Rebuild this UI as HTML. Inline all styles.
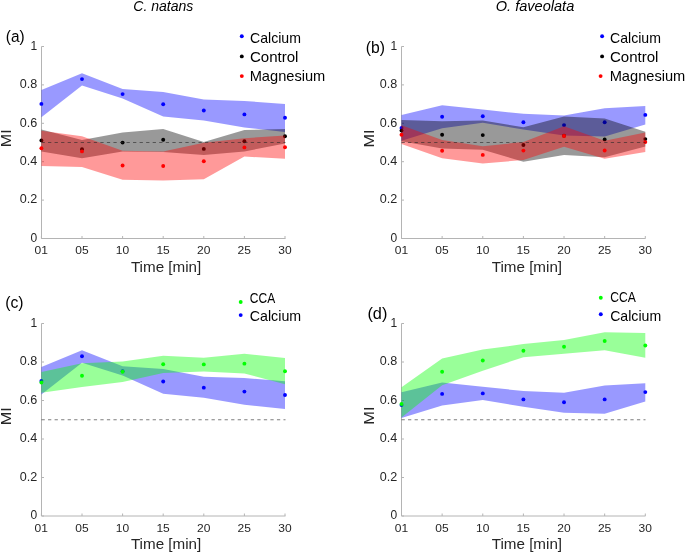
<!DOCTYPE html>
<html><head><meta charset="utf-8"><style>
html,body{margin:0;padding:0;background:#fff;}
body{width:685px;height:552px;overflow:hidden;}
svg{display:block;will-change:transform;font-family:"Liberation Sans", sans-serif;}
</style></head><body>
<svg width="685" height="552" viewBox="0 0 685 552">
<rect width="685" height="552" fill="#fff"/>
<path d="M41.5,46.5 V238.5 H285.5" fill="none" stroke="#b4b4b4" stroke-width="1"/>
<path d="M41.5,238.50 h2.5 M41.5,200.10 h2.5 M41.5,161.70 h2.5 M41.5,123.30 h2.5 M41.5,84.90 h2.5 M41.5,46.50 h2.5 M41.40,238.5 v-2.5 M82.00,238.5 v-2.5 M122.60,238.5 v-2.5 M163.20,238.5 v-2.5 M203.80,238.5 v-2.5 M244.40,238.5 v-2.5 M285.00,238.5 v-2.5" fill="none" stroke="#b4b4b4" stroke-width="1"/>
<text font-size="12" text-anchor="end" fill="#262626" transform="translate(37.20,241.80) scale(1.0,1)">0</text>
<text font-size="12" text-anchor="end" fill="#262626" transform="translate(37.20,203.40) scale(1.05,1)">0.2</text>
<text font-size="12" text-anchor="end" fill="#262626" transform="translate(37.20,165.00) scale(1.05,1)">0.4</text>
<text font-size="12" text-anchor="end" fill="#262626" transform="translate(37.20,126.60) scale(1.05,1)">0.6</text>
<text font-size="12" text-anchor="end" fill="#262626" transform="translate(37.20,88.20) scale(1.05,1)">0.8</text>
<text font-size="12" text-anchor="end" fill="#262626" transform="translate(37.20,49.80) scale(1.0,1)">1</text>
<text font-size="11.8" text-anchor="middle" fill="#262626" transform="translate(41.30,254.10) scale(1.02,1)">01</text>
<text font-size="11.8" text-anchor="middle" fill="#262626" transform="translate(81.90,254.10) scale(1.02,1)">05</text>
<text font-size="11.8" text-anchor="middle" fill="#262626" transform="translate(122.50,254.10) scale(1.02,1)">10</text>
<text font-size="11.8" text-anchor="middle" fill="#262626" transform="translate(163.10,254.10) scale(1.02,1)">15</text>
<text font-size="11.8" text-anchor="middle" fill="#262626" transform="translate(203.70,254.10) scale(1.02,1)">20</text>
<text font-size="11.8" text-anchor="middle" fill="#262626" transform="translate(244.30,254.10) scale(1.02,1)">25</text>
<text font-size="11.8" text-anchor="middle" fill="#262626" transform="translate(284.90,254.10) scale(1.02,1)">30</text>
<polygon points="41.40,90.00 82.00,73.30 122.60,89.10 163.20,91.90 203.80,99.50 244.40,100.90 285.00,104.00 285.00,131.90 244.40,127.50 203.80,120.50 163.20,116.50 122.60,98.40 82.00,85.60 41.40,117.30" fill="#0000ff" fill-opacity="0.4"/>
<circle cx="41.40" cy="103.90" r="1.95" fill="#0000ff"/>
<circle cx="82.00" cy="79.10" r="1.95" fill="#0000ff"/>
<circle cx="122.60" cy="94.10" r="1.95" fill="#0000ff"/>
<circle cx="163.20" cy="104.30" r="1.95" fill="#0000ff"/>
<circle cx="203.80" cy="110.50" r="1.95" fill="#0000ff"/>
<circle cx="244.40" cy="114.40" r="1.95" fill="#0000ff"/>
<circle cx="285.00" cy="117.80" r="1.95" fill="#0000ff"/>
<polygon points="41.40,129.40 82.00,140.10 122.60,132.60 163.20,129.00 203.80,142.00 244.40,130.00 285.00,128.90 285.00,143.50 244.40,151.50 203.80,155.10 163.20,152.00 122.60,151.50 82.00,158.30 41.40,151.60" fill="#000000" fill-opacity="0.4"/>
<circle cx="41.40" cy="140.40" r="1.95" fill="#000000"/>
<circle cx="82.00" cy="149.20" r="1.95" fill="#000000"/>
<circle cx="122.60" cy="142.60" r="1.95" fill="#000000"/>
<circle cx="163.20" cy="139.70" r="1.95" fill="#000000"/>
<circle cx="203.80" cy="148.90" r="1.95" fill="#000000"/>
<circle cx="244.40" cy="141.20" r="1.95" fill="#000000"/>
<circle cx="285.00" cy="136.30" r="1.95" fill="#000000"/>
<polygon points="41.40,130.80 82.00,136.20 122.60,150.80 163.20,151.40 203.80,142.70 244.40,138.20 285.00,135.60 285.00,158.80 244.40,156.50 203.80,179.20 163.20,180.50 122.60,179.70 82.00,167.00 41.40,166.00" fill="#ff0000" fill-opacity="0.4"/>
<circle cx="41.40" cy="148.20" r="1.95" fill="#ff0000"/>
<circle cx="82.00" cy="151.40" r="1.95" fill="#ff0000"/>
<circle cx="122.60" cy="165.50" r="1.95" fill="#ff0000"/>
<circle cx="163.20" cy="166.00" r="1.95" fill="#ff0000"/>
<circle cx="203.80" cy="161.30" r="1.95" fill="#ff0000"/>
<circle cx="244.40" cy="147.40" r="1.95" fill="#ff0000"/>
<circle cx="285.00" cy="147.30" r="1.95" fill="#ff0000"/>
<line x1="41.5" y1="142.50" x2="285.5" y2="142.50" stroke="#262626" stroke-width="1" stroke-dasharray="3.27,3.27" stroke-opacity="0.6"/>
<path d="M401.5,46.5 V238.5 H645.5" fill="none" stroke="#b4b4b4" stroke-width="1"/>
<path d="M401.5,238.50 h2.5 M401.5,200.10 h2.5 M401.5,161.70 h2.5 M401.5,123.30 h2.5 M401.5,84.90 h2.5 M401.5,46.50 h2.5 M401.50,238.5 v-2.5 M442.13,238.5 v-2.5 M482.77,238.5 v-2.5 M523.40,238.5 v-2.5 M564.03,238.5 v-2.5 M604.67,238.5 v-2.5 M645.30,238.5 v-2.5" fill="none" stroke="#b4b4b4" stroke-width="1"/>
<text font-size="12" text-anchor="end" fill="#262626" transform="translate(397.20,241.80) scale(1.0,1)">0</text>
<text font-size="12" text-anchor="end" fill="#262626" transform="translate(397.20,203.40) scale(1.05,1)">0.2</text>
<text font-size="12" text-anchor="end" fill="#262626" transform="translate(397.20,165.00) scale(1.05,1)">0.4</text>
<text font-size="12" text-anchor="end" fill="#262626" transform="translate(397.20,126.60) scale(1.05,1)">0.6</text>
<text font-size="12" text-anchor="end" fill="#262626" transform="translate(397.20,88.20) scale(1.05,1)">0.8</text>
<text font-size="12" text-anchor="end" fill="#262626" transform="translate(397.20,49.80) scale(1.0,1)">1</text>
<text font-size="11.8" text-anchor="middle" fill="#262626" transform="translate(401.40,254.10) scale(1.02,1)">01</text>
<text font-size="11.8" text-anchor="middle" fill="#262626" transform="translate(442.03,254.10) scale(1.02,1)">05</text>
<text font-size="11.8" text-anchor="middle" fill="#262626" transform="translate(482.67,254.10) scale(1.02,1)">10</text>
<text font-size="11.8" text-anchor="middle" fill="#262626" transform="translate(523.30,254.10) scale(1.02,1)">15</text>
<text font-size="11.8" text-anchor="middle" fill="#262626" transform="translate(563.93,254.10) scale(1.02,1)">20</text>
<text font-size="11.8" text-anchor="middle" fill="#262626" transform="translate(604.57,254.10) scale(1.02,1)">25</text>
<text font-size="11.8" text-anchor="middle" fill="#262626" transform="translate(645.20,254.10) scale(1.02,1)">30</text>
<polygon points="401.50,115.10 442.13,105.30 482.77,109.60 523.40,113.80 564.03,115.50 604.67,108.30 645.30,106.00 645.30,124.40 604.67,136.40 564.03,135.50 523.40,129.50 482.77,122.70 442.13,128.20 401.50,140.70" fill="#0000ff" fill-opacity="0.4"/>
<circle cx="401.50" cy="127.90" r="1.95" fill="#0000ff"/>
<circle cx="442.13" cy="116.70" r="1.95" fill="#0000ff"/>
<circle cx="482.77" cy="116.20" r="1.95" fill="#0000ff"/>
<circle cx="523.40" cy="122.20" r="1.95" fill="#0000ff"/>
<circle cx="564.03" cy="125.10" r="1.95" fill="#0000ff"/>
<circle cx="604.67" cy="122.20" r="1.95" fill="#0000ff"/>
<circle cx="645.30" cy="114.90" r="1.95" fill="#0000ff"/>
<polygon points="401.50,120.00 442.13,121.20 482.77,120.50 523.40,127.20 564.03,116.40 604.67,118.40 645.30,131.80 645.30,146.40 604.67,157.20 564.03,155.00 523.40,161.80 482.77,149.70 442.13,148.40 401.50,141.20" fill="#000000" fill-opacity="0.4"/>
<circle cx="401.50" cy="130.60" r="1.95" fill="#000000"/>
<circle cx="442.13" cy="134.80" r="1.95" fill="#000000"/>
<circle cx="482.77" cy="135.10" r="1.95" fill="#000000"/>
<circle cx="523.40" cy="145.00" r="1.95" fill="#000000"/>
<circle cx="564.03" cy="135.70" r="1.95" fill="#000000"/>
<circle cx="604.67" cy="139.40" r="1.95" fill="#000000"/>
<circle cx="645.30" cy="139.10" r="1.95" fill="#000000"/>
<polygon points="401.50,125.30 442.13,140.00 482.77,146.20 523.40,142.00 564.03,126.20 604.67,140.80 645.30,132.40 645.30,152.00 604.67,158.80 564.03,146.80 523.40,160.00 482.77,163.60 442.13,158.20 401.50,144.10" fill="#ff0000" fill-opacity="0.4"/>
<circle cx="401.50" cy="134.70" r="1.95" fill="#ff0000"/>
<circle cx="442.13" cy="150.80" r="1.95" fill="#ff0000"/>
<circle cx="482.77" cy="154.90" r="1.95" fill="#ff0000"/>
<circle cx="523.40" cy="150.60" r="1.95" fill="#ff0000"/>
<circle cx="564.03" cy="136.00" r="1.95" fill="#ff0000"/>
<circle cx="604.67" cy="150.50" r="1.95" fill="#ff0000"/>
<circle cx="645.30" cy="142.10" r="1.95" fill="#ff0000"/>
<line x1="401.5" y1="142.50" x2="645.5" y2="142.50" stroke="#262626" stroke-width="1" stroke-dasharray="3.27,3.27" stroke-opacity="0.6"/>
<path d="M41.5,323.5 V516.0 H285.5" fill="none" stroke="#b4b4b4" stroke-width="1"/>
<path d="M41.5,516.00 h2.5 M41.5,477.50 h2.5 M41.5,439.00 h2.5 M41.5,400.50 h2.5 M41.5,362.00 h2.5 M41.5,323.50 h2.5 M41.40,516.0 v-2.5 M82.00,516.0 v-2.5 M122.60,516.0 v-2.5 M163.20,516.0 v-2.5 M203.80,516.0 v-2.5 M244.40,516.0 v-2.5 M285.00,516.0 v-2.5" fill="none" stroke="#b4b4b4" stroke-width="1"/>
<text font-size="12" text-anchor="end" fill="#262626" transform="translate(37.20,519.30) scale(1.0,1)">0</text>
<text font-size="12" text-anchor="end" fill="#262626" transform="translate(37.20,480.80) scale(1.05,1)">0.2</text>
<text font-size="12" text-anchor="end" fill="#262626" transform="translate(37.20,442.30) scale(1.05,1)">0.4</text>
<text font-size="12" text-anchor="end" fill="#262626" transform="translate(37.20,403.80) scale(1.05,1)">0.6</text>
<text font-size="12" text-anchor="end" fill="#262626" transform="translate(37.20,365.30) scale(1.05,1)">0.8</text>
<text font-size="12" text-anchor="end" fill="#262626" transform="translate(37.20,326.80) scale(1.0,1)">1</text>
<text font-size="11.8" text-anchor="middle" fill="#262626" transform="translate(41.30,531.60) scale(1.02,1)">01</text>
<text font-size="11.8" text-anchor="middle" fill="#262626" transform="translate(81.90,531.60) scale(1.02,1)">05</text>
<text font-size="11.8" text-anchor="middle" fill="#262626" transform="translate(122.50,531.60) scale(1.02,1)">10</text>
<text font-size="11.8" text-anchor="middle" fill="#262626" transform="translate(163.10,531.60) scale(1.02,1)">15</text>
<text font-size="11.8" text-anchor="middle" fill="#262626" transform="translate(203.70,531.60) scale(1.02,1)">20</text>
<text font-size="11.8" text-anchor="middle" fill="#262626" transform="translate(244.30,531.60) scale(1.02,1)">25</text>
<text font-size="11.8" text-anchor="middle" fill="#262626" transform="translate(284.90,531.60) scale(1.02,1)">30</text>
<polygon points="41.40,367.11 82.00,350.37 122.60,366.21 163.20,369.02 203.80,376.64 244.40,378.04 285.00,381.15 285.00,409.12 244.40,404.71 203.80,397.69 163.20,393.68 122.60,375.54 82.00,362.70 41.40,394.48" fill="#0000ff" fill-opacity="0.4"/>
<circle cx="41.40" cy="381.05" r="1.95" fill="#0000ff"/>
<circle cx="82.00" cy="356.18" r="1.95" fill="#0000ff"/>
<circle cx="122.60" cy="371.22" r="1.95" fill="#0000ff"/>
<circle cx="163.20" cy="381.45" r="1.95" fill="#0000ff"/>
<circle cx="203.80" cy="387.67" r="1.95" fill="#0000ff"/>
<circle cx="244.40" cy="391.58" r="1.95" fill="#0000ff"/>
<circle cx="285.00" cy="394.99" r="1.95" fill="#0000ff"/>
<polygon points="41.40,372.00 82.00,363.30 122.60,361.40 163.20,355.80 203.80,357.70 244.40,353.80 285.00,358.10 285.00,384.30 244.40,373.50 203.80,371.50 163.20,373.10 122.60,382.10 82.00,387.00 41.40,392.75" fill="#00ff00" fill-opacity="0.4"/>
<circle cx="41.40" cy="382.50" r="1.95" fill="#00ff00"/>
<circle cx="82.00" cy="375.70" r="1.95" fill="#00ff00"/>
<circle cx="122.60" cy="371.70" r="1.95" fill="#00ff00"/>
<circle cx="163.20" cy="364.20" r="1.95" fill="#00ff00"/>
<circle cx="203.80" cy="364.40" r="1.95" fill="#00ff00"/>
<circle cx="244.40" cy="363.65" r="1.95" fill="#00ff00"/>
<circle cx="285.00" cy="371.30" r="1.95" fill="#00ff00"/>
<line x1="41.5" y1="419.75" x2="285.5" y2="419.75" stroke="#262626" stroke-width="1" stroke-dasharray="3.27,3.27" stroke-opacity="0.6"/>
<path d="M401.5,323.5 V516.0 H645.5" fill="none" stroke="#b4b4b4" stroke-width="1"/>
<path d="M401.5,516.00 h2.5 M401.5,477.50 h2.5 M401.5,439.00 h2.5 M401.5,400.50 h2.5 M401.5,362.00 h2.5 M401.5,323.50 h2.5 M401.50,516.0 v-2.5 M442.13,516.0 v-2.5 M482.77,516.0 v-2.5 M523.40,516.0 v-2.5 M564.03,516.0 v-2.5 M604.67,516.0 v-2.5 M645.30,516.0 v-2.5" fill="none" stroke="#b4b4b4" stroke-width="1"/>
<text font-size="12" text-anchor="end" fill="#262626" transform="translate(397.20,519.30) scale(1.0,1)">0</text>
<text font-size="12" text-anchor="end" fill="#262626" transform="translate(397.20,480.80) scale(1.05,1)">0.2</text>
<text font-size="12" text-anchor="end" fill="#262626" transform="translate(397.20,442.30) scale(1.05,1)">0.4</text>
<text font-size="12" text-anchor="end" fill="#262626" transform="translate(397.20,403.80) scale(1.05,1)">0.6</text>
<text font-size="12" text-anchor="end" fill="#262626" transform="translate(397.20,365.30) scale(1.05,1)">0.8</text>
<text font-size="12" text-anchor="end" fill="#262626" transform="translate(397.20,326.80) scale(1.0,1)">1</text>
<text font-size="11.8" text-anchor="middle" fill="#262626" transform="translate(401.40,531.60) scale(1.02,1)">01</text>
<text font-size="11.8" text-anchor="middle" fill="#262626" transform="translate(442.03,531.60) scale(1.02,1)">05</text>
<text font-size="11.8" text-anchor="middle" fill="#262626" transform="translate(482.67,531.60) scale(1.02,1)">10</text>
<text font-size="11.8" text-anchor="middle" fill="#262626" transform="translate(523.30,531.60) scale(1.02,1)">15</text>
<text font-size="11.8" text-anchor="middle" fill="#262626" transform="translate(563.93,531.60) scale(1.02,1)">20</text>
<text font-size="11.8" text-anchor="middle" fill="#262626" transform="translate(604.57,531.60) scale(1.02,1)">25</text>
<text font-size="11.8" text-anchor="middle" fill="#262626" transform="translate(645.20,531.60) scale(1.02,1)">30</text>
<polygon points="401.50,392.28 442.13,382.45 482.77,386.76 523.40,390.98 564.03,392.68 604.67,385.46 645.30,383.15 645.30,401.60 604.67,413.63 564.03,412.73 523.40,406.72 482.77,399.90 442.13,405.41 401.50,417.95" fill="#0000ff" fill-opacity="0.4"/>
<circle cx="401.50" cy="405.11" r="1.95" fill="#0000ff"/>
<circle cx="442.13" cy="393.88" r="1.95" fill="#0000ff"/>
<circle cx="482.77" cy="393.38" r="1.95" fill="#0000ff"/>
<circle cx="523.40" cy="399.40" r="1.95" fill="#0000ff"/>
<circle cx="564.03" cy="402.30" r="1.95" fill="#0000ff"/>
<circle cx="604.67" cy="399.40" r="1.95" fill="#0000ff"/>
<circle cx="645.30" cy="392.08" r="1.95" fill="#0000ff"/>
<polygon points="401.50,387.30 442.13,358.40 482.77,349.50 523.40,344.10 564.03,340.00 604.67,332.30 645.30,332.90 645.30,357.80 604.67,350.20 564.03,353.70 523.40,357.20 482.77,370.80 442.13,385.30 401.50,417.50" fill="#00ff00" fill-opacity="0.4"/>
<circle cx="401.50" cy="404.00" r="1.95" fill="#00ff00"/>
<circle cx="442.13" cy="371.70" r="1.95" fill="#00ff00"/>
<circle cx="482.77" cy="360.50" r="1.95" fill="#00ff00"/>
<circle cx="523.40" cy="350.70" r="1.95" fill="#00ff00"/>
<circle cx="564.03" cy="346.80" r="1.95" fill="#00ff00"/>
<circle cx="604.67" cy="341.00" r="1.95" fill="#00ff00"/>
<circle cx="645.30" cy="345.50" r="1.95" fill="#00ff00"/>
<line x1="401.5" y1="419.75" x2="645.5" y2="419.75" stroke="#262626" stroke-width="1" stroke-dasharray="3.27,3.27" stroke-opacity="0.6"/>
<circle cx="241.8" cy="36.3" r="1.95" fill="#0000ff"/>
<circle cx="241.8" cy="56.4" r="1.95" fill="#000000"/>
<circle cx="241.8" cy="76.1" r="1.95" fill="#ff0000"/>
<circle cx="602.1" cy="36.3" r="1.95" fill="#0000ff"/>
<circle cx="602.1" cy="56.4" r="1.95" fill="#000000"/>
<circle cx="600.6" cy="76.1" r="1.95" fill="#ff0000"/>
<circle cx="240.7" cy="302.0" r="1.95" fill="#00ff00"/>
<circle cx="240.7" cy="315.1" r="1.95" fill="#0000ff"/>
<circle cx="600.8" cy="297.7" r="1.95" fill="#00ff00"/>
<circle cx="600.8" cy="314.2" r="1.95" fill="#0000ff"/>
<text font-size="14.4" fill="#000" transform="translate(249.96,42.60) scale(0.9811,1)">Calcium</text>
<text font-size="14.4" fill="#000" transform="translate(249.92,61.70) scale(1.0465,1)">Control</text>
<text font-size="14.4" fill="#000" transform="translate(249.66,80.85) scale(1.0169,1)">Magnesium</text>
<text font-size="14.4" fill="#000" transform="translate(609.96,42.60) scale(0.9811,1)">Calcium</text>
<text font-size="14.4" fill="#000" transform="translate(609.92,61.70) scale(1.0465,1)">Control</text>
<text font-size="14.4" fill="#000" transform="translate(609.66,80.85) scale(1.0169,1)">Magnesium</text>
<text font-size="14.4" fill="#000" transform="translate(249.87,302.50) scale(0.8338,1)">CCA</text>
<text font-size="14.4" fill="#000" transform="translate(249.76,321.00) scale(0.9891,1)">Calcium</text>
<text font-size="14.4" fill="#000" transform="translate(610.27,302.30) scale(0.8405,1)">CCA</text>
<text font-size="14.4" fill="#000" transform="translate(610.16,320.80) scale(0.9811,1)">Calcium</text>
<text font-size="14" font-style="italic" fill="#000" transform="translate(133.25,10.95) scale(1.0038,1)">C. natans</text>
<text font-size="14" font-style="italic" fill="#000" transform="translate(495.72,11.10) scale(1.0411,1)">O. faveolata</text>
<text font-size="14.2" fill="#262626" transform="translate(130.90,271.85) scale(1.0708,1)">Time [min]</text>
<text font-size="14.2" fill="#262626" transform="translate(130.90,549.20) scale(1.0708,1)">Time [min]</text>
<text font-size="14.2" fill="#262626" transform="translate(491.70,271.85) scale(1.0708,1)">Time [min]</text>
<text font-size="14.2" fill="#262626" transform="translate(491.70,549.20) scale(1.0708,1)">Time [min]</text>
<text font-size="14.1" fill="#262626" transform="translate(10.88,147.13) rotate(-90) scale(1.1336,1)">MI</text>
<text font-size="14.1" fill="#262626" transform="translate(373.80,147.39) rotate(-90) scale(1.1472,1)">MI</text>
<text font-size="14.1" fill="#262626" transform="translate(11.20,425.29) rotate(-90) scale(1.1472,1)">MI</text>
<text font-size="14.1" fill="#262626" transform="translate(373.80,424.71) rotate(-90) scale(1.1623,1)">MI</text>
<text font-size="16.3" fill="#000" transform="translate(5.75,41.74) scale(0.9455,1)">(a)</text>
<text font-size="16.3" fill="#000" transform="translate(365.74,52.54) scale(0.9622,1)">(b)</text>
<text font-size="16.3" fill="#000" transform="translate(5.24,307.74) scale(0.9647,1)">(c)</text>
<text font-size="16.3" fill="#000" transform="translate(367.40,318.64) scale(1.0014,1)">(d)</text>
</svg>
</body></html>
